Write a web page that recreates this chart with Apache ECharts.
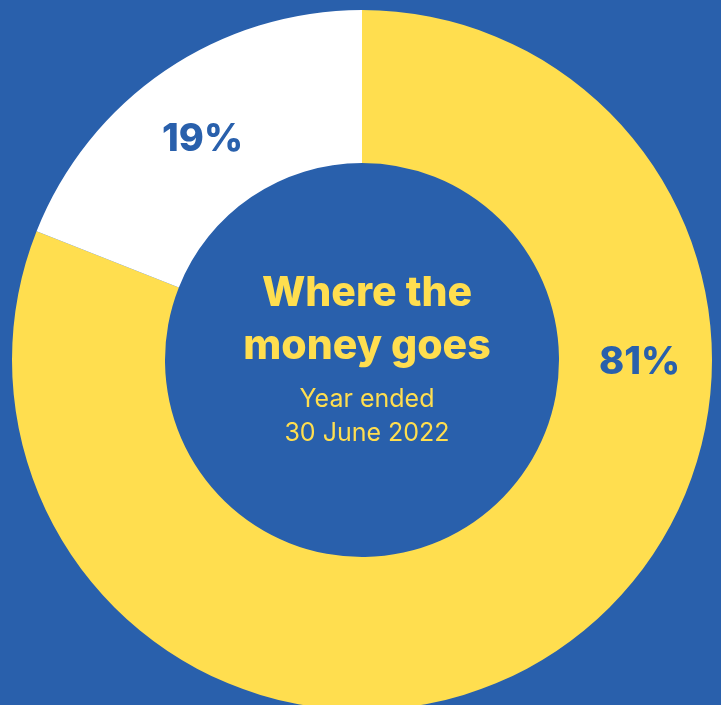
<!DOCTYPE html>
<html>
<head>
<meta charset="utf-8">
<style>
  html, body { margin: 0; padding: 0; background: #2960AC; }
  #chart { width: 721px; height: 705px; }
</style>
<script src="https://cdn.jsdelivr.net/npm/echarts@6/dist/echarts.min.js"></script>
</head>
<body>
<div id="chart"></div>
<script>
// Spending split for the year
const categories = ['Programs', 'Other'];
const shares = [81, 19];
const sliceColors = ['#FFDE4F', '#FFFFFF'];

const titleLines = ['Where the', 'money goes'];
const subtitleLines = ['Year ended', '30 June 2022'];

const BLUE = '#2960AC';
const YELLOW = '#FFDE4F';
const CX = 362, CY = 360, R_IN = 197, R_OUT = 350;
const R_MID = (R_IN + R_OUT) / 2;

const chart = echarts.init(document.getElementById('chart'));

chart.setOption({
  backgroundColor: BLUE,
  animation: false,
  title: [
    {
      text: titleLines.join('\n'),
      left: CX, top: 262, textAlign: 'center',
      textStyle: {
        color: YELLOW, fontFamily: 'Inter', fontWeight: 800,
        fontSize: 41, lineHeight: 53
      }
    },
    {
      text: subtitleLines.join('\n'),
      left: CX, top: 377, textAlign: 'center',
      textStyle: {
        color: YELLOW, fontFamily: 'Inter', fontWeight: 400,
        fontSize: 25, lineHeight: 34
      }
    }
  ],
  series: [{
    type: 'pie',
    center: [CX, CY],
    radius: [R_IN, R_OUT],
    startAngle: 90,
    clockwise: true,
    silent: true,
    data: categories.map((name, i) => ({
      name, value: shares[i],
      itemStyle: { color: sliceColors[i] }
    })),
    label: {
      show: true,
      position: 'inside',
      formatter: p => p.value + '%',
      color: BLUE,
      fontFamily: 'Inter',
      fontWeight: 800,
      fontSize: 38
    },
    labelLine: { show: false },
    // the large slice's label sits at 3 o'clock on the ring
    labelLayout: p => p.dataIndex === 0
      ? { x: CX + R_MID + 4, y: CY + 3, align: 'center', verticalAlign: 'middle' }
      : { x: p.labelRect.x + p.labelRect.width / 2 - 4, y: p.labelRect.y + p.labelRect.height / 2 + 8, align: 'center', verticalAlign: 'middle' }
  }]
});
</script>
</body>
</html>
